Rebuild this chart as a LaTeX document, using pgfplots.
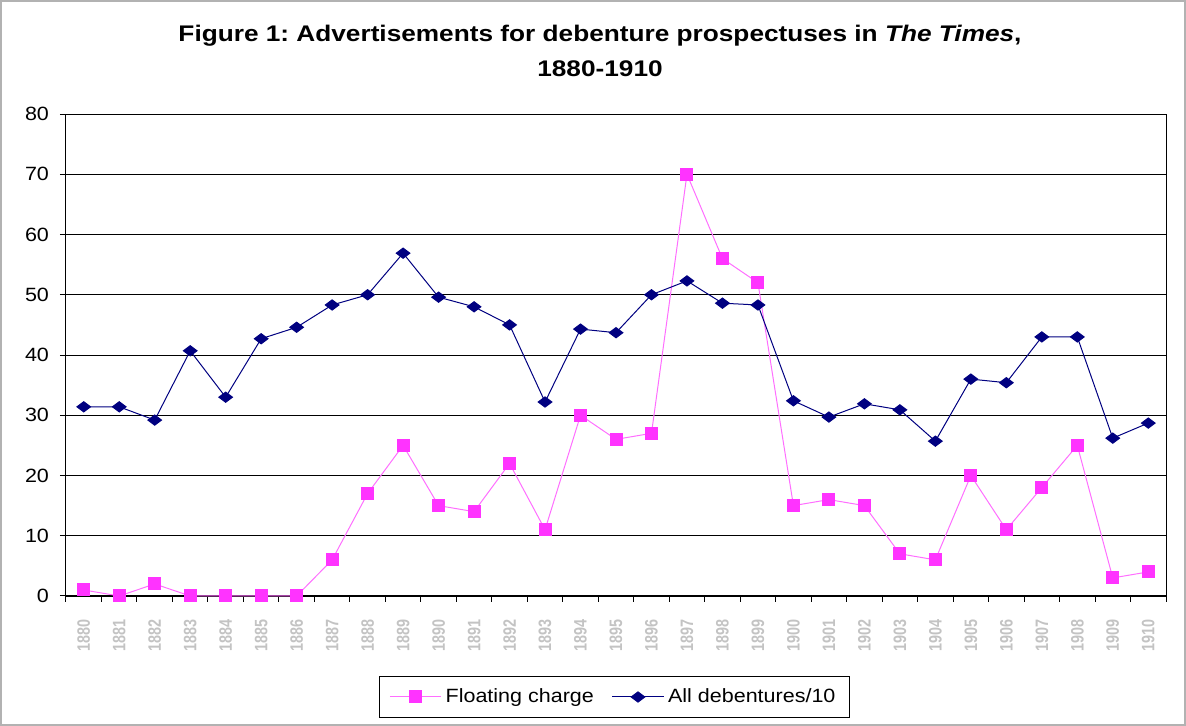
\documentclass[border=0pt]{standalone}
\usepackage{graphicx}
\usepackage{pgfplots}
\pgfplotsset{compat=1.18}
\usetikzlibrary{calc}
\usepackage{fontspec}
\setmainfont{Liberation Sans}
\definecolor{pinkc}{RGB}{255,51,255}
\definecolor{pinkl}{RGB}{255,110,255}
\definecolor{navyc}{RGB}{0,0,128}
\definecolor{lblgray}{RGB}{195,195,195}
\pgfplotstableread{
x fc ad
0 1 31.4
1 0 31.4
2 2 29.2
3 0 40.7
4 0 33.0
5 0 42.7
6 0 44.6
7 6 48.3
8 17 50.0
9 25 56.9
10 15 49.6
11 14 48.0
12 22 45.0
13 11 32.2
14 30 44.3
15 26 43.7
16 27 50.0
17 70 52.3
18 56 48.6
19 52 48.3
20 15 32.4
21 16 29.7
22 15 31.9
23 7 30.9
24 6 25.7
25 20 36.0
26 11 35.4
27 18 43.0
28 25 43.0
29 3 26.2
30 4 28.7
}\datatable
\newcommand{\yr}[1]{\scalebox{0.8}[1]{#1}}
\begin{document}
\frenchspacing
\begin{tikzpicture}
\begin{axis}[name=ax, scale only axis,
  width=550pt, height=241pt,
  clip=false,
  xmin=-0.5, xmax=30.5, ymin=0, ymax=80,
  ytick={0,10,...,80},
  yticklabel={\scalebox{1.12}[1]{\pgfmathprintnumber{\tick}}},
  ymajorgrids, grid style={black, line width=0.4pt},
  axis line style={black, line width=0.5pt},
  xtick={0,...,30},
  xticklabels={\yr{1880},\yr{1881},\yr{1882},\yr{1883},\yr{1884},\yr{1885},\yr{1886},\yr{1887},\yr{1888},\yr{1889},\yr{1890},\yr{1891},\yr{1892},\yr{1893},\yr{1894},\yr{1895},\yr{1896},\yr{1897},\yr{1898},\yr{1899},\yr{1900},\yr{1901},\yr{1902},\yr{1903},\yr{1904},\yr{1905},\yr{1906},\yr{1907},\yr{1908},\yr{1909},\yr{1910}},
  minor xtick={-0.5,0.5,...,30.5},
  major x tick style={draw=none},
  minor x tick style={black, line width=0.5pt},
  ytick style={black, line width=0.5pt},
  tick align=outside, major tick length=3pt, minor tick length=3pt,
  xtick pos=bottom, ytick pos=left,
  /pgf/number format/assume math mode=true,
  yticklabel style={font=\fontsize{9.6}{11}\selectfont, xshift=-2pt},
  xticklabel style={rotate=90, anchor=east, font=\fontsize{9}{10}\selectfont\bfseries, text=lblgray},
  xticklabel shift=5pt,
  legend columns=2,
  legend style={at={(0.4986,-0.2095)}, anchor=center, draw=black, line width=0.5pt,
    font=\fontsize{9.6}{11.5}\selectfont, inner xsep=5pt, inner ysep=4pt,
    /tikz/every even column/.append style={column sep=7pt}},
  legend image code/.code={\draw[mark repeat=2,mark phase=2] plot coordinates {(0cm,0cm)(0.45cm,0cm)(0.9cm,0cm)};},
]
\addplot[color=pinkl, line width=0.5pt, mark=square*, mark size=3pt, mark options={fill=pinkc, draw=pinkc}] table[x=x, y=fc] {\datatable};
\addlegendentry{\scalebox{1.12}[1]{Floating charge}}
\addplot[color=navyc, line width=0.5pt, mark=diamond*, mark size=3.4pt, mark options={fill=navyc, draw=navyc, rotate=90}] table[x=x, y=ad] {\datatable};
\addlegendentry{\scalebox{1.12}[1]{All debentures/10}}
\draw[gray!60, line width=0.8pt] ($(rel axis cs:0,0)+(-32.6pt,-64.6pt)$) rectangle ($(rel axis cs:1,1)+(9.6pt,56.6pt)$);
\node[font=\fontsize{11.3}{13}\selectfont\bfseries, anchor=base, inner sep=0pt] at ($(rel axis cs:0,1)+(267pt,36.2pt)$) {\scalebox{1.16}[1]{Figure 1: Advertisements for debenture prospectuses in \textit{The Times},}};
\node[font=\fontsize{11.3}{13}\selectfont\bfseries, anchor=base, inner sep=0pt] at ($(rel axis cs:0,1)+(267pt,19pt)$) {\scalebox{1.16}[1]{1880-1910}};
\end{axis}
\end{tikzpicture}
\end{document}
